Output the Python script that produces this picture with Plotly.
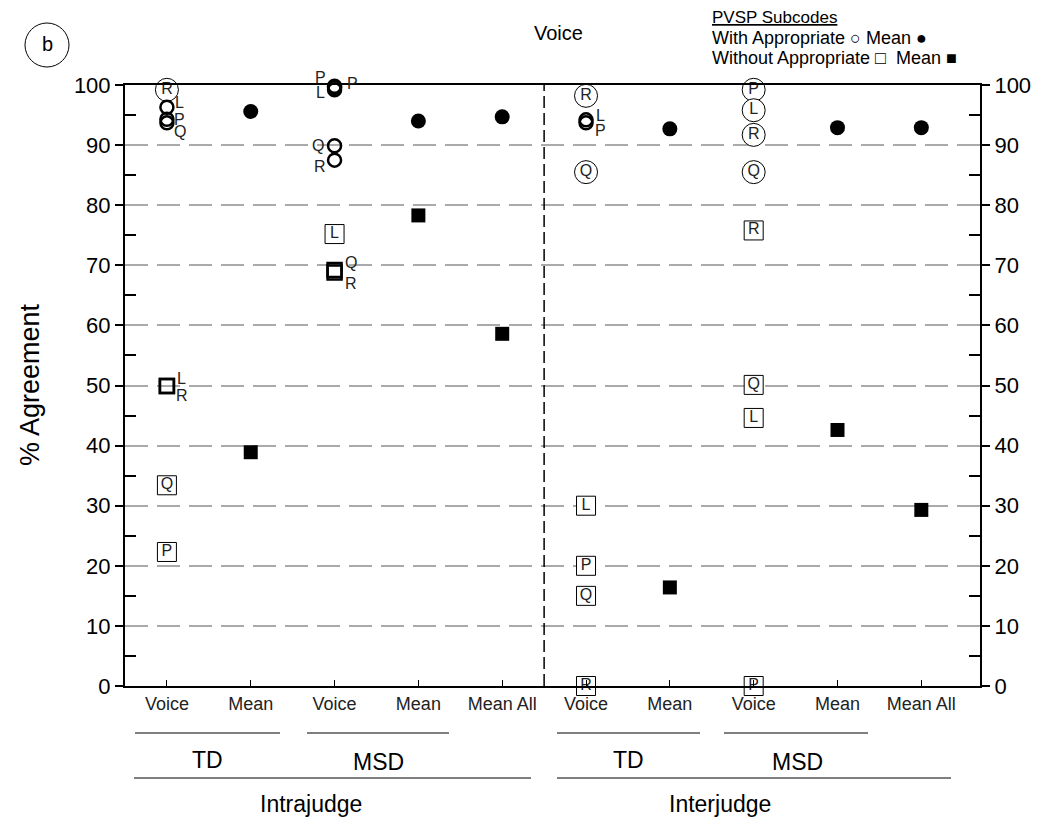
import plotly.graph_objects as go

# ---------------- data ----------------
categories = ["Voice", "Mean", "Voice", "Mean", "Mean All",
              "Voice", "Mean", "Voice", "Mean", "Mean All"]
cat_pos = [1, 2, 3, 4, 5, 6, 7, 8, 9, 10]

# With Appropriate: labelled open circles (letter inside)
with_x = [1, 6, 6, 8, 8, 8, 8]
with_y = [99.2, 98.2, 85.5, 99.2, 95.8, 91.7, 85.5]
with_lab = ["R", "R", "Q", "P", "L", "R", "Q"]

# With Appropriate: overlapping circles (letter beside)
withc_x = [1, 1, 1, 3, 3, 3, 3, 3, 6, 6]
withc_y = [96.3, 94.3, 93.7, 99.8, 99.2, 99.6, 89.9, 87.5, 94.2, 93.7]
withc_lab = ["L", "P", "Q", "P", "L", "P", "Q", "R", "L", "P"]
withc_dx = [13, 13, 13, -14, -14, 18, -17, -15, 14, 14]
withc_dy = [5, 0, -9, 9, -3, 4, 0, -6, 4, -8]

# With Appropriate: means
with_mean_x = [2, 4, 5, 7, 9, 10]
with_mean_y = [95.6, 94.0, 94.7, 92.7, 92.9, 92.9]

# Without Appropriate: labelled open squares (letter inside)
wo_x = [1, 1, 3, 6, 6, 6, 6, 8, 8, 8, 8]
wo_y = [33.4, 22.3, 75.2, 30.0, 20.0, 15.0, 0.0, 75.8, 50.1, 44.6, 0.0]
wo_lab = ["Q", "P", "L", "L", "P", "Q", "R", "R", "Q", "L", "P"]

# Without Appropriate: overlapping squares (letter beside)
woc_x = [1, 1, 3, 3]
woc_y = [49.9, 49.9, 69.2, 68.8]
woc_lab = ["L", "R", "Q", "R"]
woc_dx = [15, 15, 16, 16]
woc_dy = [8, -9, 8, -11]

# Without Appropriate: means
wo_mean_x = [2, 4, 5, 7, 9, 10]
wo_mean_y = [38.9, 78.3, 58.6, 16.4, 42.6, 29.3]

y_ticks = [0, 10, 20, 30, 40, 50, 60, 70, 80, 90, 100]

# ---------------- layout helpers ----------------
W, H = 1050, 821
L_PX, R_PX, T_PX, B_PX = 125, 980, 85, 686
X0, X1 = 0.5, 10.7
FONT = "Liberation Sans, Arial, sans-serif"


def px2paper_x(px):
    return (px - L_PX) / (R_PX - L_PX)


def py2paper_y(py):
    return (B_PX - py) / (B_PX - T_PX)


def px2data_x(px):
    return X0 + (px - L_PX) / (R_PX - L_PX) * (X1 - X0)


fig = go.Figure()

# labelled circles
fig.add_trace(go.Scatter(
    x=with_x, y=with_y, mode="markers+text", text=with_lab,
    textposition="middle center", textfont=dict(size=16, color="#222", family=FONT),
    marker=dict(symbol="circle", size=23, color="white",
                line=dict(color="black", width=1)),
    cliponaxis=False, showlegend=False))

# overlapping circles
fig.add_trace(go.Scatter(
    x=withc_x, y=withc_y, mode="markers",
    marker=dict(symbol="circle-open", size=13, color="black",
                line=dict(color="black", width=2.5)),
    cliponaxis=False, showlegend=False))

# labelled squares
fig.add_trace(go.Scatter(
    x=wo_x, y=wo_y, mode="markers+text", text=wo_lab,
    textposition="middle center", textfont=dict(size=16, color="#222", family=FONT),
    marker=dict(symbol="square", size=19, color="white",
                line=dict(color="black", width=1)),
    cliponaxis=False, showlegend=False))

# overlapping squares
fig.add_trace(go.Scatter(
    x=woc_x, y=woc_y, mode="markers",
    marker=dict(symbol="square-open", size=14, color="black",
                line=dict(color="black", width=2.5)),
    cliponaxis=False, showlegend=False))

# means
fig.add_trace(go.Scatter(
    x=with_mean_x, y=with_mean_y, mode="markers",
    marker=dict(symbol="circle", size=15, color="black"),
    cliponaxis=False, showlegend=False))
fig.add_trace(go.Scatter(
    x=wo_mean_x, y=wo_mean_y, mode="markers",
    marker=dict(symbol="square", size=14, color="black"),
    cliponaxis=False, showlegend=False))

# invisible trace for right axis
fig.add_trace(go.Scatter(x=[1], y=[50], yaxis="y2", mode="markers",
                         marker=dict(opacity=0), showlegend=False, hoverinfo="skip"))

annotations = []
for x, y, t, dx, dy in zip(withc_x, withc_y, withc_lab, withc_dx, withc_dy):
    annotations.append(dict(x=x, y=y, xref="x", yref="y", text=t, showarrow=False,
                            xanchor="center", yanchor="middle",
                            xshift=dx, yshift=dy, font=dict(size=16, color="#222", family=FONT)))
for x, y, t, dx, dy in zip(woc_x, woc_y, woc_lab, woc_dx, woc_dy):
    annotations.append(dict(x=x, y=y, xref="x", yref="y", text=t, showarrow=False,
                            xanchor="center", yanchor="middle",
                            xshift=dx, yshift=dy, font=dict(size=16, color="#222", family=FONT)))


def paper_text(text, px, py, size, xanchor="center", **kw):
    return dict(x=px2paper_x(px), y=py2paper_y(py), xref="paper", yref="paper",
                text=text, showarrow=False, xanchor=xanchor, yanchor="middle",
                font=dict(size=size, color="black", family=FONT), **kw)


annotations += [
    paper_text("Voice", 558, 33, 20),
    paper_text("b", 47, 44, 20),
    paper_text("<u>PVSP Subcodes</u>", 710, 17, 17, xanchor="left"),
    paper_text("With Appropriate \u25CB Mean \u25CF", 710, 38, 18, xanchor="left"),
    paper_text("Without Appropriate \u25A1  Mean \u25A0", 710, 58, 18, xanchor="left"),
    paper_text("% Agreement", 30, 385, 27, textangle=-90),
]

group_labels = [("TD", 207, 760), ("MSD", 378, 762), ("Intrajudge", 311, 804),
                ("TD", 628, 760), ("MSD", 797, 762), ("Interjudge", 720, 804)]
for t, px, py in group_labels:
    annotations.append(dict(x=px2data_x(px), y=py2paper_y(py), xref="x", yref="paper",
                            text=t, showarrow=False, xanchor="center", yanchor="middle",
                            font=dict(size=23, color="black", family=FONT)))

shapes = []
# group underline rules
for x0p, x1p, py in [(135, 280, 733), (307, 449, 733), (134, 531, 778),
                     (557, 700, 733), (724, 868, 733), (557, 951, 778)]:
    shapes.append(dict(type="line", xref="x", yref="paper",
                       x0=px2data_x(x0p), x1=px2data_x(x1p),
                       y0=py2paper_y(py), y1=py2paper_y(py),
                       line=dict(color="black", width=1.2)))
# vertical separator between intrajudge and interjudge
shapes.append(dict(type="line", xref="x", yref="y", x0=5.5, x1=5.5, y0=0, y1=100,
                   line=dict(color="black", width=1.5, dash="12px,5px"), layer="above"))
# circled "b"
shapes.append(dict(type="circle", xref="paper", yref="paper",
                   x0=px2paper_x(25), x1=px2paper_x(69),
                   y0=py2paper_y(67), y1=py2paper_y(23),
                   line=dict(color="black", width=1)))

fig.update_layout(
    width=W, height=H,
    margin=dict(l=L_PX, r=W - R_PX, t=T_PX, b=H - B_PX, pad=0),
    paper_bgcolor="white", plot_bgcolor="white",
    font=dict(family=FONT, color="black"),
    xaxis=dict(range=[X0, X1], tickmode="array", tickvals=cat_pos, ticktext=categories,
               ticks="inside", ticklen=6, tickcolor="black", tickwidth=1,
               showline=True, linecolor="black", linewidth=2, mirror=True,
               showgrid=False, zeroline=False,
               tickfont=dict(size=18, color="#222", family=FONT)),
    yaxis=dict(range=[0, 100], tickmode="array", tickvals=y_ticks,
               ticks="outside", ticklen=8, tickcolor="black", tickwidth=2,
               minor=dict(dtick=10, tick0=5, ticks="inside", ticklen=11,
                          tickcolor="black", tickwidth=2, showgrid=False),
               showline=True, linecolor="black", linewidth=2,
               showgrid=True, gridcolor="#aaaaaa", gridwidth=2, griddash="23px,9px",
               zeroline=False,
               tickfont=dict(size=22, color="black", family=FONT)),
    yaxis2=dict(range=[0, 100], overlaying="y", side="right", tickmode="array",
                tickvals=y_ticks, ticks="outside", ticklen=8, tickcolor="black", tickwidth=2,
                minor=dict(dtick=10, tick0=5, ticks="inside", ticklen=11,
                           tickcolor="black", tickwidth=2, showgrid=False),
                showline=True, linecolor="black", linewidth=2,
                showgrid=False, zeroline=False,
                tickfont=dict(size=22, color="black", family=FONT)),
    annotations=annotations,
    shapes=shapes,
    showlegend=False,
)

fig.write_html("out.html", config={"displayModeBar": False},
               post_script="document.body.style.margin='0px';"
                           "document.body.style.overflow='hidden';")
